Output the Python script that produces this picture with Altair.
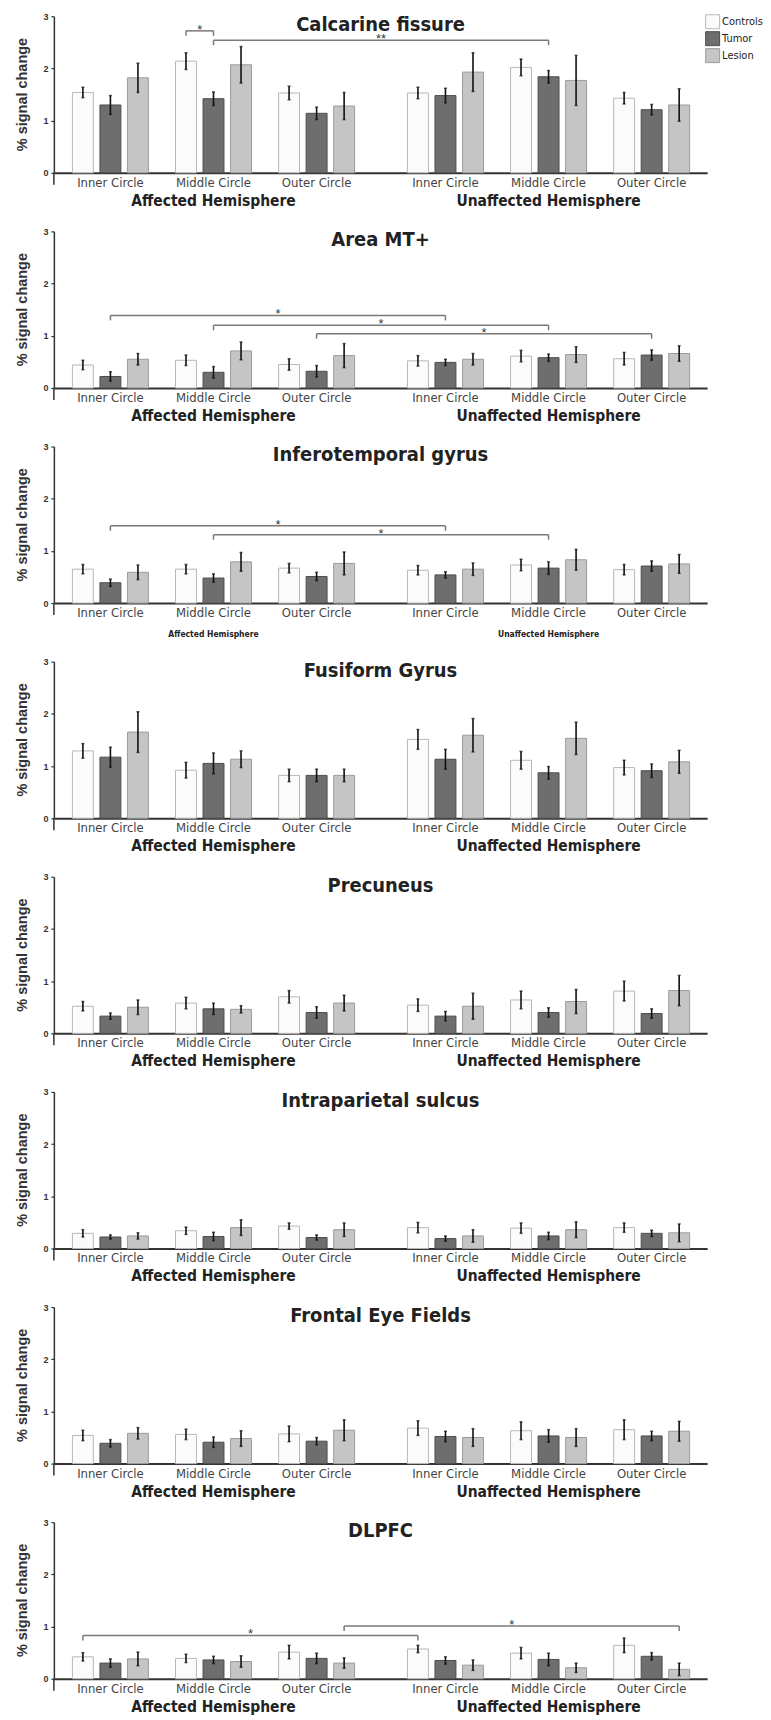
import altair as alt
import pandas as pd

regions = ["Calcarine fissure", "Area MT+", "Inferotemporal gyrus", "Fusiform Gyrus",
           "Precuneus", "Intraparietal sulcus", "Frontal Eye Fields", "DLPFC"]
groups = ["Controls", "Tumor", "Lesion"]
circles = ["Inner Circle", "Middle Circle", "Outer Circle"]
hemispheres = ["Affected Hemisphere", "Unaffected Hemisphere"]
y_title = "% signal change"

# order of the 18 values: hemisphere (affected, unaffected) x circle (inner, middle, outer) x group (C, T, L)
calcarine_mean = [1.54, 1.30, 1.82, 2.14, 1.42, 2.07, 1.53, 1.14, 1.28,
                  1.53, 1.48, 1.93, 2.02, 1.84, 1.77, 1.43, 1.21, 1.30]
calcarine_err = [0.10, 0.18, 0.28, 0.16, 0.13, 0.35, 0.13, 0.12, 0.26,
                 0.11, 0.14, 0.37, 0.16, 0.12, 0.48, 0.11, 0.10, 0.31]
mt_mean = [0.44, 0.22, 0.55, 0.53, 0.30, 0.71, 0.45, 0.32, 0.62,
           0.52, 0.49, 0.55, 0.61, 0.58, 0.64, 0.56, 0.63, 0.66]
mt_err = [0.09, 0.09, 0.11, 0.10, 0.11, 0.17, 0.11, 0.11, 0.23,
          0.10, 0.06, 0.11, 0.11, 0.07, 0.15, 0.12, 0.10, 0.15]
it_mean = [0.65, 0.39, 0.59, 0.65, 0.48, 0.79, 0.67, 0.51, 0.76,
           0.63, 0.54, 0.65, 0.73, 0.67, 0.83, 0.64, 0.71, 0.75]
it_err = [0.09, 0.07, 0.14, 0.09, 0.08, 0.18, 0.09, 0.08, 0.22,
          0.09, 0.06, 0.12, 0.11, 0.12, 0.20, 0.10, 0.10, 0.18]
fus_mean = [1.29, 1.17, 1.65, 0.92, 1.05, 1.13, 0.82, 0.82, 0.82,
            1.51, 1.13, 1.59, 1.11, 0.87, 1.53, 0.97, 0.91, 1.08]
fus_err = [0.14, 0.19, 0.39, 0.15, 0.20, 0.16, 0.12, 0.12, 0.12,
           0.19, 0.19, 0.32, 0.17, 0.12, 0.31, 0.14, 0.13, 0.22]
pre_mean = [0.52, 0.33, 0.50, 0.58, 0.47, 0.46, 0.70, 0.40, 0.58,
            0.54, 0.33, 0.52, 0.64, 0.40, 0.61, 0.81, 0.38, 0.82]
pre_err = [0.09, 0.06, 0.14, 0.11, 0.11, 0.07, 0.12, 0.11, 0.15,
           0.12, 0.09, 0.25, 0.17, 0.09, 0.23, 0.19, 0.09, 0.29]
ips_mean = [0.29, 0.22, 0.24, 0.34, 0.23, 0.40, 0.43, 0.21, 0.36,
            0.40, 0.19, 0.24, 0.39, 0.24, 0.36, 0.40, 0.29, 0.30]
ips_err = [0.07, 0.04, 0.06, 0.07, 0.08, 0.15, 0.06, 0.05, 0.13,
           0.10, 0.05, 0.12, 0.10, 0.07, 0.15, 0.09, 0.06, 0.17]
fef_mean = [0.54, 0.39, 0.58, 0.56, 0.41, 0.48, 0.57, 0.43, 0.64,
            0.68, 0.52, 0.50, 0.63, 0.53, 0.50, 0.65, 0.53, 0.62]
fef_err = [0.10, 0.07, 0.11, 0.10, 0.10, 0.15, 0.15, 0.07, 0.20,
           0.14, 0.10, 0.17, 0.17, 0.12, 0.17, 0.19, 0.09, 0.19]
dl_mean = [0.42, 0.30, 0.38, 0.39, 0.36, 0.33, 0.51, 0.39, 0.30,
           0.57, 0.35, 0.26, 0.49, 0.37, 0.21, 0.64, 0.43, 0.18]
dl_err = [0.08, 0.08, 0.13, 0.08, 0.07, 0.11, 0.13, 0.10, 0.10,
          0.07, 0.07, 0.10, 0.11, 0.12, 0.09, 0.14, 0.07, 0.12]

means = [calcarine_mean, mt_mean, it_mean, fus_mean, pre_mean, ips_mean, fef_mean, dl_mean]
errors = [calcarine_err, mt_err, it_err, fus_err, pre_err, ips_err, fef_err, dl_err]

# significance brackets: region, bar index from, bar index to, height, label
bracket_region = ["Calcarine fissure", "Calcarine fissure", "Area MT+", "Area MT+", "Area MT+",
                  "Inferotemporal gyrus", "Inferotemporal gyrus", "DLPFC", "DLPFC"]
bracket_from = [3, 4, 1, 4, 7, 1, 4, 0, 8]
bracket_to = [4, 13, 10, 13, 16, 10, 13, 9, 17]
bracket_height = [2.72, 2.54, 1.39, 1.20, 1.04, 1.48, 1.31, 0.83, 1.01]
bracket_label = ["*", "**", "*", "*", "*", "*", "*", "*", "*"]

# ---- styling / layout ----
FILL = ["#fbfbfb", "#6e6e6e", "#c5c5c5"]
STROKE = ["#b8b8b8", "#4d4d4d", "#9c9c9c"]
NARROW = "Liberation Sans Narrow, Arial Narrow, DejaVu Sans Condensed, Liberation Sans, sans-serif"
WIDE = "Liberation Sans, Arial, sans-serif"
HEMI_GAP = 0.25
BAR_STEP = 0.267
PLOT_W, PLOT_H = 655, 157
HEMI_SIZE = {"Inferotemporal gyrus": 8.5}
HEMI_DY = {"Inferotemporal gyrus": 31}

xscale = alt.Scale(domain=[-0.50, 5.74], nice=False, zero=False)
yscale = alt.Scale(domain=[0, 3], nice=False)
XAX = alt.Axis(title=None, labels=False, ticks=False, grid=False,
               domainColor="#333", domainWidth=2)
YAX = alt.Axis(title=None, values=[0, 1, 2, 3], format="d",
               grid=False, tickSize=3, tickColor="#333", tickWidth=1.2,
               domainColor="#333", domainWidth=1.5,
               labelFont=WIDE, labelFontSize=9, labelFontWeight="bold",
               labelColor="#333", labelPadding=3)


def X(field):
    return alt.X(field, scale=xscale, axis=XAX)


def Y(field):
    return alt.Y(field, scale=yscale, axis=YAX)


def pos(i):
    h, rem = divmod(i, 9)
    c, g = divmod(rem, 3)
    return c + h * (3 + HEMI_GAP) + (g - 1) * BAR_STEP


centers = [c + h * (3 + HEMI_GAP) for h in range(2) for c in range(3)]
circle_df = pd.DataFrame({"x": centers, "label": circles * 2})
hemi_df = pd.DataFrame({"x": [centers[1], centers[4]], "label": hemispheres})


def panel(k):
    name = regions[k]
    rows = []
    for i in range(18):
        m, e = means[k][i], errors[k][i]
        rows.append({"pos": pos(i), "mean": m, "lo": m - e, "hi": m + e,
                     "group": groups[i % 3]})
    df = pd.DataFrame(rows)
    if k == 0:
        legend = alt.Legend(orient="none", legendX=653, legendY=-2, title=None,
                            symbolType="square", symbolSize=196, symbolStrokeWidth=1,
                            labelFont=NARROW, labelFontSize=11, labelColor="#222",
                            rowPadding=-3, labelOffset=2)
    else:
        legend = None
    base = alt.Chart(df)
    bars = base.mark_bar(size=21, strokeWidth=1).encode(
        x=X("pos:Q"),
        y=Y("mean:Q"),
        color=alt.Color("group:N", scale=alt.Scale(domain=groups, range=FILL), legend=legend),
        stroke=alt.Stroke("group:N", scale=alt.Scale(domain=groups, range=STROKE), legend=legend),
    )
    err = base.mark_rule(color="#111", strokeWidth=1.6).encode(
        x=X("pos:Q"), y=Y("lo:Q"), y2="hi:Q",
    )
    cap_lo = base.mark_tick(color="#111", size=3, thickness=1.5, orient="horizontal").encode(
        x=X("pos:Q"), y=Y("lo:Q"))
    cap_hi = base.mark_tick(color="#111", size=3, thickness=1.5, orient="horizontal").encode(
        x=X("pos:Q"), y=Y("hi:Q"))
    # short extension of the y axis line below the baseline
    ext = alt.Chart(pd.DataFrame({"k": [0]})).mark_rule(color="#333", strokeWidth=1.5).encode(
        x=alt.value(0), y=alt.value(PLOT_H), y2=alt.value(PLOT_H + 12))
    ytitle = alt.Chart(pd.DataFrame({"t": [y_title]})).mark_text(
        font=WIDE, fontSize=14.5, fontWeight="bold", color="#333", angle=270,
        baseline="middle", align="center"
    ).encode(x=alt.value(-31), y=alt.value(PLOT_H / 2), text="t:N")
    title_df = pd.DataFrame({"t": [name]})
    title = alt.Chart(title_df).mark_text(
        font=NARROW, fontSize=20, fontWeight="bold", color="#222", baseline="alphabetic"
    ).encode(x=alt.value(PLOT_W / 2), y=alt.value(15), text="t:N")
    clabels = alt.Chart(circle_df).mark_text(
        font=NARROW, fontSize=13, color="#444", baseline="middle", dy=10
    ).encode(x=X("x:Q"), y=alt.value(PLOT_H), text="label:N")
    hlabels = alt.Chart(hemi_df).mark_text(
        font=NARROW, fontSize=HEMI_SIZE.get(name, 15.5), fontWeight="bold", color="#222",
        baseline="middle", dy=HEMI_DY.get(name, 28)
    ).encode(x=X("x:Q"), y=alt.value(PLOT_H), text="label:N")
    layers = [bars, err, cap_lo, cap_hi, ext, ytitle, title, clabels, hlabels]

    sel = [j for j in range(len(bracket_region)) if bracket_region[j] == name]
    if sel:
        bdf = pd.DataFrame({
            "x1": [pos(bracket_from[j]) for j in sel],
            "x2": [pos(bracket_to[j]) for j in sel],
            "y": [bracket_height[j] for j in sel],
            "label": [bracket_label[j] for j in sel],
        })
        bdf["xm"] = (bdf["x1"] + bdf["x2"]) / 2
        ends = pd.concat([bdf[["x1", "y"]].rename(columns={"x1": "x"}),
                          bdf[["x2", "y"]].rename(columns={"x2": "x"})])
        hline = alt.Chart(bdf).mark_rule(color="#7a7a7a", strokeWidth=1.5).encode(
            x=X("x1:Q"), x2="x2:Q", y=Y("y:Q"))
        vend = alt.Chart(ends).mark_rule(color="#7a7a7a", strokeWidth=1.5, y2Offset=5).encode(
            x=X("x:Q"), y=Y("y:Q"), y2="y:Q")
        star = alt.Chart(bdf).mark_text(font=WIDE, fontSize=13, color="#333",
                                        baseline="alphabetic", dy=3).encode(
            x=X("xm:Q"), y=Y("y:Q"), text="label:N")
        layers += [hline, vend, star]

    return alt.layer(*layers).properties(width=PLOT_W, height=PLOT_H)


chart = alt.vconcat(*[panel(k) for k in range(8)], spacing=58.7, bounds="flush").resolve_scale(
    color="independent", stroke="independent"
).configure_view(stroke=None).properties(
    padding={"left": 7, "top": 2, "right": 0, "bottom": 0}
)

chart.save("out.html", embed_options={"renderer": "svg", "actions": False})
